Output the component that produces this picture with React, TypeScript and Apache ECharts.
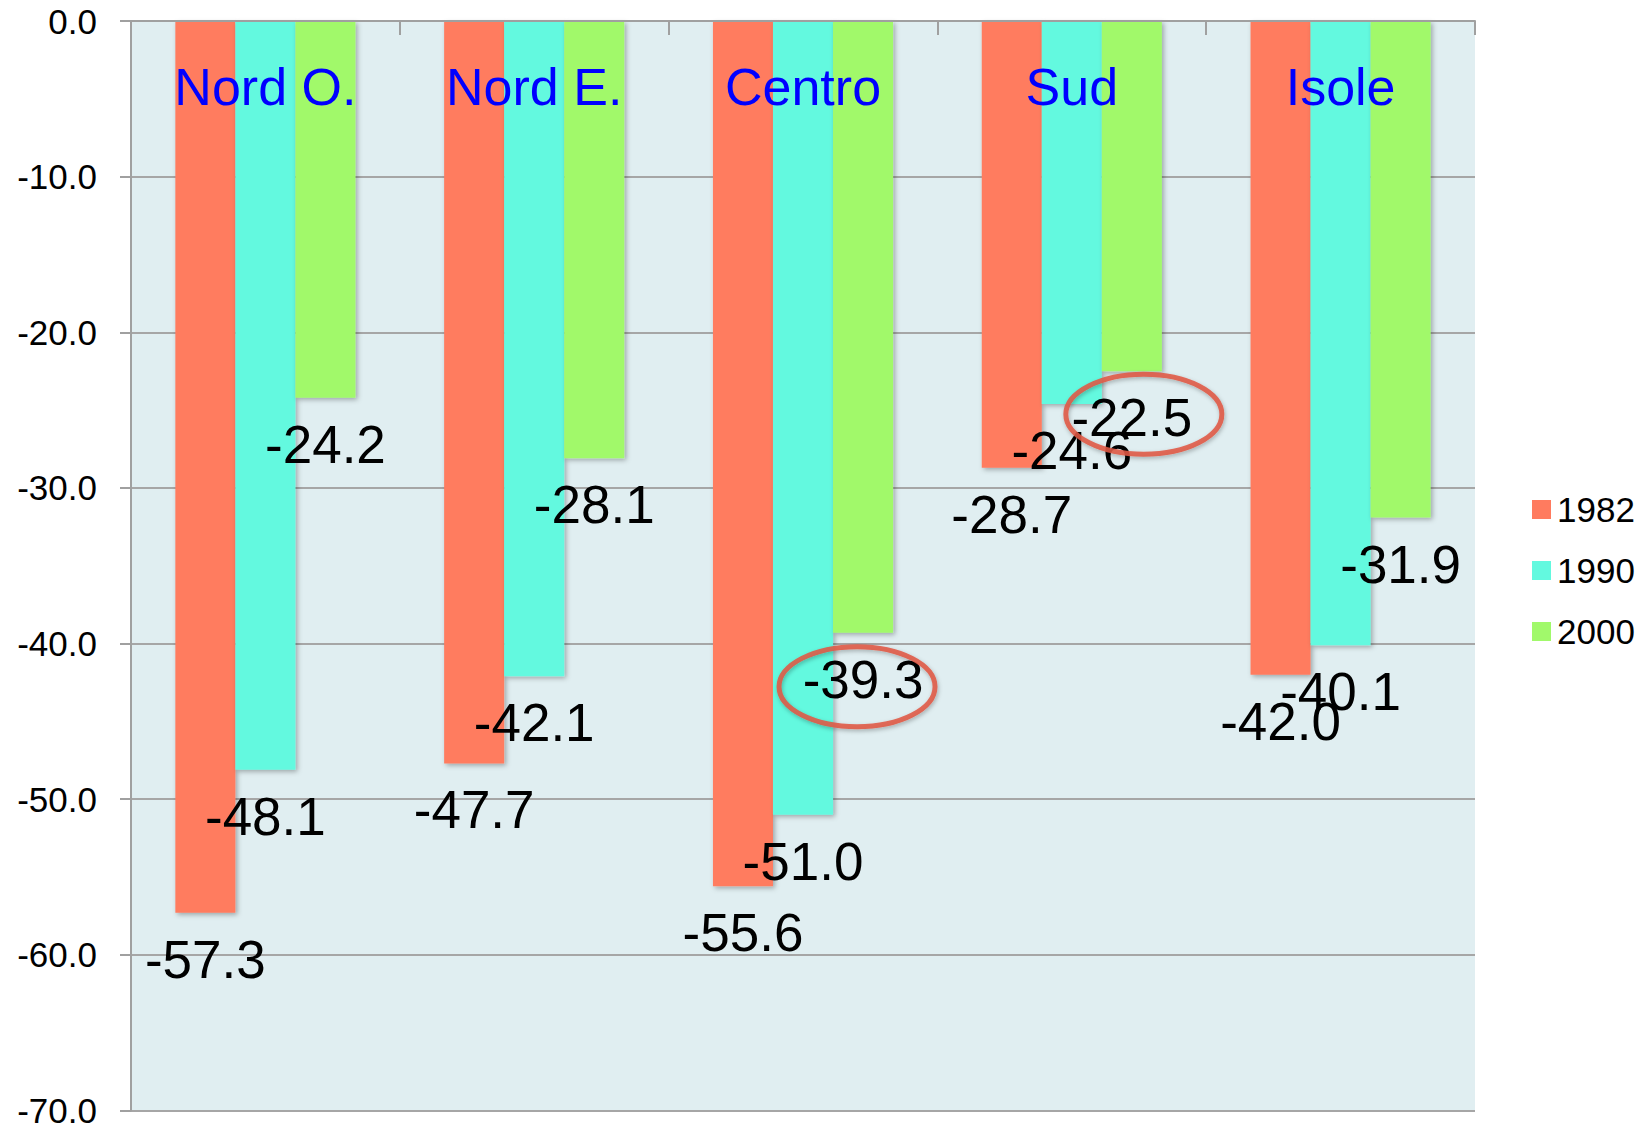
import React, { useEffect, useRef } from "react";
import * as echarts from "echarts";

const categories = ["Nord O.", "Nord E.", "Centro", "Sud", "Isole"];
const years = ["1982", "1990", "2000"];
const values1982 = [-57.3, -47.7, -55.6, -28.7, -42.0];
const values1990 = [-48.1, -42.1, -51.0, -24.6, -40.1];
const values2000 = [-24.2, -28.1, -39.3, -22.5, -31.9];
const seriesValues = [values1982, values1990, values2000];
const colors = ["#FF7B5F", "#63F9DF", "#A1F96B"];
// highlighted labels: series index + category index
const highlights = [
  { series: 2, index: 2, dx: -6, dy: 54 },
  { series: 2, index: 3, dx: 12, dy: 43 },
];

const FONT = "'Liberation Sans', Arial, Helvetica, sans-serif";

export default function App() {
  const ref = useRef<HTMLDivElement>(null);
  useEffect(() => {
    if (!ref.current) return;
    const chart = echarts.init(ref.current, null, { renderer: "svg" });
    const option: any = {
      animation: false,
      backgroundColor: "#ffffff",
      textStyle: { fontFamily: FONT },
      grid: {
        left: 131,
        top: 21,
        right: 177,
        bottom: 15,
        show: true,
        backgroundColor: "#E0EEF1",
        borderWidth: 0,
      },
      legend: {
        orient: "vertical",
        left: 1527,
        top: 487,
        itemWidth: 19,
        itemHeight: 19,
        itemGap: 26,
        icon: "rect",
        data: years,
        textStyle: { fontSize: 35, color: "#000", fontFamily: FONT, padding: [0, 0, 0, 1] },
      },
      xAxis: {
        type: "category",
        position: "top",
        data: categories,
        axisLine: { show: true, lineStyle: { color: "#A0A0A0", width: 2 } },
        axisTick: { show: true, inside: true, length: 14, lineStyle: { color: "#A0A0A0", width: 2 } },
        axisLabel: {
          inside: true,
          margin: 40,
          fontSize: 52,
          color: "#0000FF",
          fontFamily: FONT,
        },
        splitLine: { show: false },
        z: 10,
      },
      yAxis: {
        type: "value",
        min: -70,
        max: 0,
        interval: 10,
        axisLine: { show: true, lineStyle: { color: "#A0A0A0", width: 2 } },
        axisTick: { show: true, length: 11, lineStyle: { color: "#A0A0A0", width: 2 } },
        axisLabel: {
          margin: 34,
          fontSize: 35,
          color: "#000",
          fontFamily: FONT,
          formatter: (v: number) => v.toFixed(1),
        },
        splitLine: { show: true, lineStyle: { color: "#A6A6A6", width: 2 } },
      },
      series: years.map((y, i) => ({
        name: y,
        type: "bar",
        data: seriesValues[i],
        barGap: "0%",
        barCategoryGap: "33%",
        itemStyle: {
          color: colors[i],
          shadowColor: "rgba(0,0,0,0.3)",
          shadowBlur: 5,
          shadowOffsetX: 2,
          shadowOffsetY: 2,
        },
        label: {
          show: true,
          position: "bottom",
          distance: 20,
          fontSize: 53,
          color: "#000",
          fontFamily: FONT,
          formatter: (p: any) => Number(p.value).toFixed(1),
        },
        z: 2 + i,
      })),
    };
    chart.setOption(option);

    const graphics: any[] = [];
    highlights.forEach((h) => {
      try {
        const data = (chart as any).getModel().getSeriesByIndex(h.series).getData();
        const layout = data.getItemLayout(h.index);
        const cx = layout.x + layout.width / 2 + h.dx;
        const bottom = Math.max(layout.y, layout.y + layout.height);
        graphics.push({
          type: "ellipse",
          shape: { cx, cy: bottom + h.dy, rx: 78, ry: 40 },
          style: {
            fill: "none",
            stroke: "rgba(224,88,68,0.88)",
            lineWidth: 5,
            shadowColor: "rgba(0,0,0,0.3)",
            shadowBlur: 4,
            shadowOffsetX: 1,
            shadowOffsetY: 2,
          },
          z: 100,
        });
      } catch (e) {
        // ignore
      }
    });
    chart.setOption({ graphic: graphics });
    return () => chart.dispose();
  }, []);
  return (
    <div
      ref={ref}
      style={{ position: "fixed", left: 0, top: 0, width: 1652, height: 1128 }}
    />
  );
}
